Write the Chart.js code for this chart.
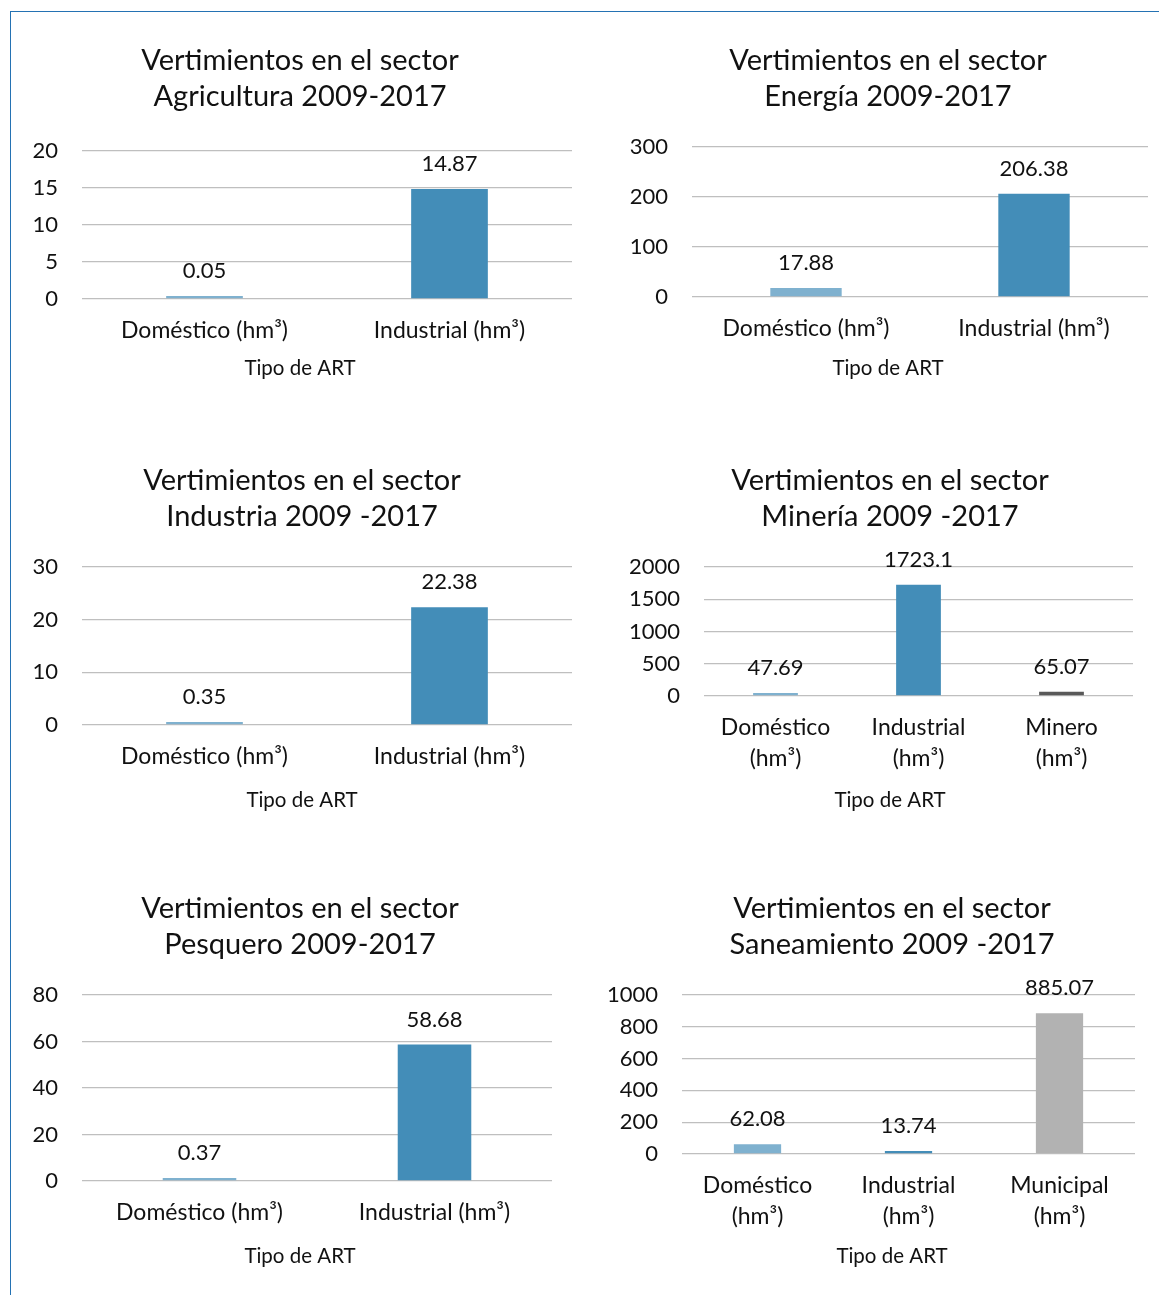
<!DOCTYPE html>
<html>
<head>
<meta charset="utf-8">
<script src="https://cdn.jsdelivr.net/npm/chart.js@4"></script>
<style>
  body { margin: 0; background: #fff; width: 1159px; height: 1295px; overflow: hidden; position: relative; }
  .frame { position: absolute; left: 10px; top: 11px; width: 1160px; height: 1300px;
           border-left: 1.5px solid #2472b3; border-top: 1.5px solid #2472b3; }
  .box { position: absolute; }
</style>
</head>
<body>
<div class="frame"></div>
<div class="box"><canvas id="agri"></canvas></div>
<div class="box"><canvas id="energia"></canvas></div>
<div class="box"><canvas id="industria"></canvas></div>
<div class="box"><canvas id="mineria"></canvas></div>
<div class="box"><canvas id="pesquero"></canvas></div>
<div class="box"><canvas id="saneamiento"></canvas></div>
<script>
// --- data ---
const axisTitle = 'Tipo de ART';

const agriTitle = ['Vertimientos en el sector', 'Agricultura 2009-2017'];
const agriLabels = ['Doméstico (hm³)', 'Industrial (hm³)'];
const agriValues = [0.05, 14.87];
const agriTicks = [0, 5, 10, 15, 20];

const energiaTitle = ['Vertimientos en el sector', 'Energía 2009-2017'];
const energiaLabels = ['Doméstico (hm³)', 'Industrial (hm³)'];
const energiaValues = [17.88, 206.38];
const energiaTicks = [0, 100, 200, 300];

const industriaTitle = ['Vertimientos en el sector', 'Industria 2009 -2017'];
const industriaLabels = ['Doméstico (hm³)', 'Industrial (hm³)'];
const industriaValues = [0.35, 22.38];
const industriaTicks = [0, 10, 20, 30];

const mineriaTitle = ['Vertimientos en el sector', 'Minería 2009 -2017'];
const mineriaLabels = [['Doméstico', '(hm³)'], ['Industrial', '(hm³)'], ['Minero', '(hm³)']];
const mineriaValues = [47.69, 1723.1, 65.07];
const mineriaTicks = [0, 500, 1000, 1500, 2000];

const pesqueroTitle = ['Vertimientos en el sector', 'Pesquero 2009-2017'];
const pesqueroLabels = ['Doméstico (hm³)', 'Industrial (hm³)'];
const pesqueroValues = [0.37, 58.68];
const pesqueroTicks = [0, 20, 40, 60, 80];

const saneamientoTitle = ['Vertimientos en el sector', 'Saneamiento 2009 -2017'];
const saneamientoLabels = [['Doméstico', '(hm³)'], ['Industrial', '(hm³)'], ['Municipal', '(hm³)']];
const saneamientoValues = [62.08, 13.74, 885.07];
const saneamientoTicks = [0, 200, 400, 600, 800, 1000];

// --- styles ---
const FONT = 'Lato';
const TEXT = '#111';
const DOM = '#7fb1cf', IND = '#438db8', MIN = '#595959', MUN = '#b2b2b2';
const TITLE_SIZE = 29, TITLE_LH = 35.5;
const SUB_SIZE = 20.5, SUB_LH = 24;
const CAT_SIZE = 23, CAT_LH = 31;
const TICK_SIZE = 22, VALUE_SIZE = 22;

// value labels over the bars
const valueLabels = {
  id: 'valueLabels',
  afterDatasetsDraw(chart) {
    const ctx = chart.ctx;
    ctx.save();
    ctx.font = VALUE_SIZE + 'px ' + FONT;
    ctx.fillStyle = TEXT;
    ctx.textAlign = 'center';
    ctx.textBaseline = 'middle';
    chart.getDatasetMeta(0).data.forEach((bar, i) => {
      ctx.fillText(String(chart.data.datasets[0].data[i]), bar.x, bar.y - 25);
    });
    ctx.restore();
  }
};

function drawChart(id, g, title, labels, values, colors, ticks) {
  const top = Math.round(g.titleY - TITLE_LH / 2 - 10);
  const bottom = g.axisY + SUB_LH / 2 + 8;
  // canvas is symmetric around the title centre g.cx
  const x1 = 2 * g.cx - g.x0;
  const canvas = document.getElementById(id);
  const box = canvas.parentNode;
  const w = x1 - g.x0, h = bottom - top;
  box.style.left = g.x0 + 'px';
  box.style.top = top + 'px';
  box.style.width = w + 'px';
  box.style.height = h + 'px';
  canvas.width = w; canvas.height = h;

  new Chart(canvas.getContext('2d'), {
    type: 'bar',
    data: {
      labels: labels,
      datasets: [{
        data: values,
        backgroundColor: colors,
        barPercentage: 0.313,
        categoryPercentage: 1,
        minBarLength: 3
      }]
    },
    options: {
      responsive: false,
      animation: false,
      layout: { padding: { left: 0, right: 0, top: 0, bottom: 8 } },
      plugins: {
        legend: { display: false },
        tooltip: { enabled: false },
        title: {
          display: true, text: title, color: TEXT,
          font: { family: FONT, size: TITLE_SIZE, weight: 'normal', lineHeight: TITLE_LH / TITLE_SIZE },
          padding: { top: 10, bottom: g.plotT - (top + 10 + 2 * TITLE_LH) }
        },
        subtitle: {
          display: true, position: 'bottom', text: axisTitle, color: TEXT,
          font: { family: FONT, size: SUB_SIZE, lineHeight: SUB_LH / SUB_SIZE },
          padding: 0
        }
      },
      scales: {
        x: {
          grid: { display: false, drawTicks: false },
          border: { display: false },
          ticks: {
            color: TEXT, maxRotation: 0, autoSkip: false,
            font: { family: FONT, size: CAT_SIZE, lineHeight: CAT_LH / CAT_SIZE },
            padding: g.catY - g.plotB - CAT_LH / 2
          },
          afterFit: s => { s.height = (g.axisY - SUB_LH / 2) - g.plotB; }
        },
        y: {
          min: ticks[0], max: ticks[ticks.length - 1],
          grid: { color: '#bfbfbf', lineWidth: 1.3, drawTicks: false },
          border: { display: false },
          ticks: {
            stepSize: ticks[1] - ticks[0], color: TEXT, padding: 24,
            font: { family: FONT, size: TICK_SIZE },
            callback: v => String(v)
          },
          afterFit: s => { s.width = g.plotL - g.x0; }
        },
        // empty right-hand spacer so the plot ends at g.plotR
        spacer: {
          type: 'linear', position: 'right',
          grid: { display: false, drawTicks: false },
          border: { display: false },
          ticks: { display: false },
          afterFit: s => { s.width = x1 - g.plotR; }
        }
      }
    },
    plugins: [valueLabels]
  });
}

drawChart('agri', { x0: 12, cx: 300, plotL: 82, plotR: 572, titleY: 61, plotT: 151, plotB: 299, catY: 331, axisY: 368 },
  agriTitle, agriLabels, agriValues, [DOM, IND], agriTicks);
drawChart('energia', { x0: 612, cx: 888, plotL: 692, plotR: 1148, titleY: 61, plotT: 147, plotB: 297, catY: 329, axisY: 368 },
  energiaTitle, energiaLabels, energiaValues, [DOM, IND], energiaTicks);
drawChart('industria', { x0: 12, cx: 302, plotL: 82, plotR: 572, titleY: 481, plotT: 567, plotB: 725, catY: 757, axisY: 800 },
  industriaTitle, industriaLabels, industriaValues, [DOM, IND], industriaTicks);
drawChart('mineria', { x0: 612, cx: 890, plotL: 704, plotR: 1133, titleY: 481, plotT: 567, plotB: 696, catY: 728, axisY: 800 },
  mineriaTitle, mineriaLabels, mineriaValues, [DOM, IND, MIN], mineriaTicks);
drawChart('pesquero', { x0: 12, cx: 300, plotL: 82, plotR: 552, titleY: 909, plotT: 995, plotB: 1181, catY: 1213, axisY: 1256 },
  pesqueroTitle, pesqueroLabels, pesqueroValues, [DOM, IND], pesqueroTicks);
drawChart('saneamiento', { x0: 600, cx: 892, plotL: 682, plotR: 1135, titleY: 909, plotT: 995, plotB: 1154, catY: 1186, axisY: 1256 },
  saneamientoTitle, saneamientoLabels, saneamientoValues, [DOM, IND, MUN], saneamientoTicks);
</script>
</body>
</html>
